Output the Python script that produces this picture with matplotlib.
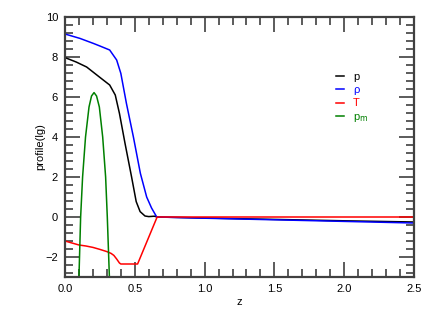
import numpy as np
import matplotlib
matplotlib.use('Agg')
import matplotlib.pyplot as plt
from matplotlib.ticker import MultipleLocator, FormatStrFormatter, FuncFormatter

plt.rcParams['font.family'] = ['Liberation Sans', 'DejaVu Sans']

# valores
z_p = [0.0, 0.08, 0.155, 0.25, 0.32, 0.36, 0.39, 0.43, 0.477, 0.51, 0.538, 0.573, 0.60, 0.64, 0.66,
       1.0, 1.5, 2.0, 2.5]
p = [7.97, 7.75, 7.5, 6.98, 6.6, 6.1, 5.18, 3.68, 2.0, 0.77, 0.27, 0.05, 0.02, 0.04, 0.0,
     -0.05, -0.12, -0.19, -0.25]

z_rho = [0.0, 0.107, 0.203, 0.25, 0.32, 0.37, 0.40, 0.44, 0.49, 0.54, 0.585, 0.62, 0.657,
         1.0, 1.5, 2.0, 2.5]
rho = [9.15, 8.93, 8.68, 8.55, 8.35, 7.85, 7.18, 5.68, 4.0, 2.18, 1.0, 0.45, 0.0,
       -0.06, -0.14, -0.22, -0.3]

z_T = [0.0, 0.1, 0.15, 0.2, 0.25, 0.3, 0.33, 0.35, 0.37, 0.39, 0.40, 0.52, 0.66, 1.0, 2.5]
T = [-1.2, -1.4, -1.45, -1.52, -1.62, -1.73, -1.82, -1.92, -2.1, -2.3, -2.35, -2.35, 0.0, 0.0, 0.0]

z_pm = [0.100, 0.112, 0.126, 0.147, 0.172, 0.19, 0.208, 0.226, 0.246, 0.27, 0.291, 0.303, 0.318]
pm = [-3.0, 0.0, 2.0, 4.0, 5.5, 6.05, 6.22, 6.05, 5.5, 4.0, 2.0, 0.0, -3.0]

fig = plt.figure(figsize=(4.36, 3.27), dpi=100)
ax = fig.add_axes([65 / 436, 1 - 277 / 327, 349 / 436, 260 / 327])

ax.plot(z_p, p, color='black', lw=1.1, label='p')
ax.plot(z_rho, rho, color='blue', lw=1.1, label='ρ')
ax.plot(z_T, T, color='red', lw=1.1, label='T')
ax.plot(z_pm, pm, color='green', lw=1.1, label='p$_\\mathrm{m}$')

ax.set_xlim(0, 2.5)
ax.set_ylim(-3, 10)
ax.xaxis.set_major_locator(MultipleLocator(0.5))
ax.xaxis.set_minor_locator(MultipleLocator(0.1))
ax.yaxis.set_major_locator(MultipleLocator(2))
ax.yaxis.set_minor_locator(MultipleLocator(0.4))
ax.xaxis.set_major_formatter(FormatStrFormatter('%.1f'))
ax.yaxis.set_major_formatter(FuncFormatter(lambda v, _: f'{int(round(v))}'.replace('-', '\u2212')))

gris = '#404040'
for s in ax.spines.values():
    s.set_linewidth(1.6)
    s.set_color(gris)
ax.tick_params(which='both', direction='in', top=True, right=True, color=gris, labelsize=8, width=1.2)
ax.tick_params(which='major', length=11, pad=5)
ax.tick_params(which='minor', length=6)

ax.set_xlabel('z', fontsize=8, labelpad=2)
ax.set_ylabel('profile(lg)', fontsize=8, labelpad=0)

leg = ax.legend(loc='upper left', bbox_to_anchor=(0.749, 0.826), frameon=False, fontsize=8,
                handlelength=0.7, handletextpad=0.8, labelspacing=0.28)
for t, l in zip(leg.get_texts(), leg.get_lines()):
    t.set_color(l.get_color())

plt.savefig('out.png')
